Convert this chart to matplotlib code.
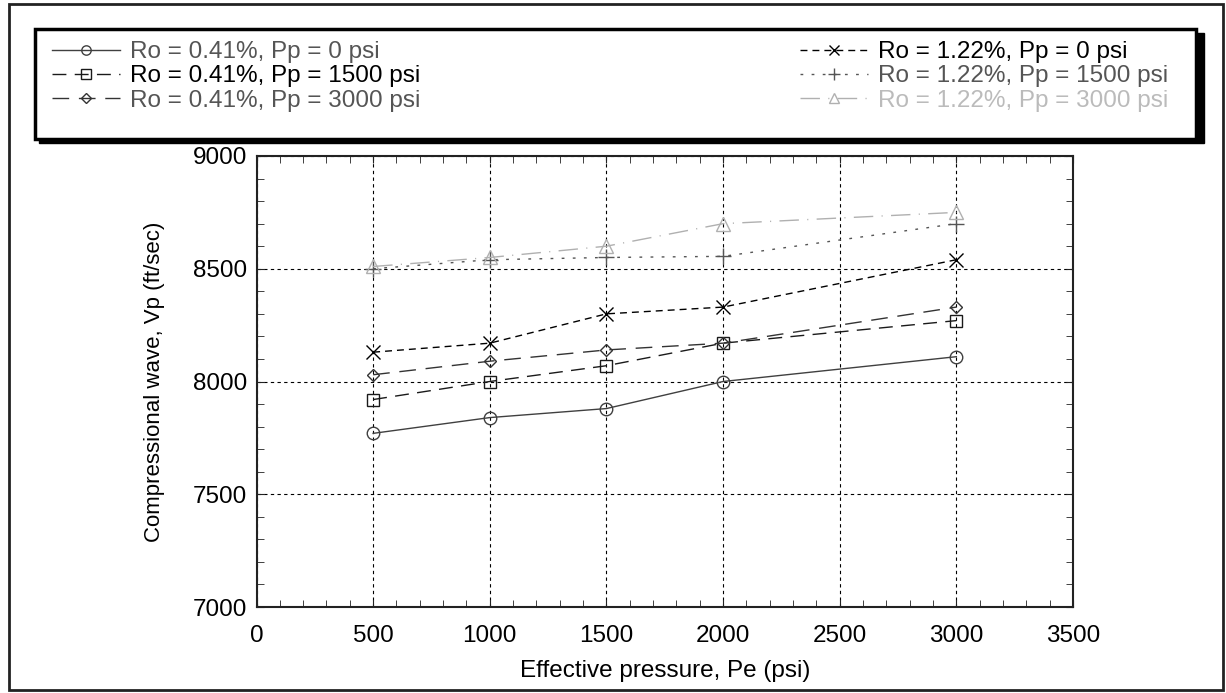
import matplotlib.pyplot as plt
from matplotlib.patches import Rectangle
from matplotlib.ticker import MultipleLocator

plt.rcParams['font.family'] = ['Liberation Sans', 'DejaVu Sans']
FS = 17.5

# effective pressure (psi) and compressional velocity Vp (ft/sec)
pe = [500, 1000, 1500, 2000, 3000]
vp_041_0 = [7770, 7840, 7880, 8000, 8110]
vp_041_1500 = [7920, 8000, 8070, 8170, 8270]
vp_041_3000 = [8030, 8090, 8140, 8170, 8330]
vp_122_0 = [8130, 8170, 8300, 8330, 8540]
vp_122_1500 = [8500, 8540, 8550, 8555, 8700]
vp_122_3000 = [8510, 8550, 8600, 8700, 8750]

labels_left = ['Ro = 0.41%, Pp = 0 psi', 'Ro = 0.41%, Pp = 1500 psi', 'Ro = 0.41%, Pp = 3000 psi']
labels_right = ['Ro = 1.22%, Pp = 0 psi', 'Ro = 1.22%, Pp = 1500 psi', 'Ro = 1.22%, Pp = 3000 psi']

W, H = 1226, 693
fig = plt.figure(figsize=(W / 100, H / 100), dpi=100)
ax = fig.add_axes([256.5 / W, 1 - 607 / H, (1073 - 256.5) / W, (607 - 156) / H])

kw = dict(lw=1, mfc='none', mew=1)
l1, = ax.plot(pe, vp_041_0, color='#404040', ls='-', marker='o', ms=9, **kw)
l2, = ax.plot(pe, vp_041_1500, color='#1a1a1a', ls=(0, (10, 6)), marker='s', ms=9, **kw)
l3, = ax.plot(pe, vp_041_3000, color='#333333', ls=(0, (12, 7)), marker='D', ms=6.5, **kw)
r1, = ax.plot(pe, vp_122_0, color='black', ls=(0, (5, 3.6)), marker='x', ms=10, **kw)
r2, = ax.plot(pe, vp_122_1500, color='#555555', ls=(0, (2, 6)), marker='+', ms=11, **kw)
r3, = ax.plot(pe, vp_122_3000, color='#b0b0b0', ls=(0, (14, 6, 0.8, 6)), marker='^', ms=10, **kw)

ax.set_xlim(0, 3500)
ax.set_ylim(7000, 9000)
ax.xaxis.set_major_locator(MultipleLocator(500))
ax.xaxis.set_minor_locator(MultipleLocator(100))
ax.yaxis.set_major_locator(MultipleLocator(500))
ax.yaxis.set_minor_locator(MultipleLocator(100))
ax.tick_params(which='both', direction='in', top=True, right=True, labelsize=FS, color='#222222')
ax.tick_params(which='major', length=5)
ax.tick_params(axis='y', which='major', pad=7)
ax.tick_params(axis='x', which='major', pad=13)
ax.tick_params(which='minor', length=5)
ax.grid(True, which='major', color='black', ls=(0, (3, 3)), lw=0.8)
for s in ax.spines.values():
    s.set_linewidth(1.5)
    s.set_color('#222222')
ax.set_xlabel('Effective pressure, Pe (psi)', fontsize=FS, labelpad=9)
ax.set_ylabel('Compressional wave, Vp (ft/sec)', fontsize=16, labelpad=20)

# legend box with shadow
fig.patches.append(Rectangle((39 / W, 1 - 143 / H), (1200 - 35) / W, (143 - 33) / H,
                             transform=fig.transFigure, fc='black', ec='black', zorder=1))
fig.patches.append(Rectangle((35 / W, 1 - 139 / H), (1196 - 35) / W, (139 - 29) / H,
                             transform=fig.transFigure, fc='white', ec='black', lw=2.5, zorder=2))
# outer frame
fig.patches.append(Rectangle((9 / W, 1 - 690 / H), (1223 - 9) / W, (690 - 4) / H,
                             transform=fig.transFigure, fc='none', ec='#222222', lw=2, zorder=3))

lkw = dict(frameon=False, fontsize=FS, handlelength=2.8, handletextpad=0.4,
           labelspacing=0.1, markerscale=0.75, borderaxespad=0, borderpad=0)
legl = fig.legend([l1, l2, l3], labels_left, loc='upper left',
                  bbox_to_anchor=(52 / W, 1 - 41 / H), **lkw)
legr = fig.legend([r1, r2, r3], labels_right, loc='upper left',
                  bbox_to_anchor=(800 / W, 1 - 41 / H), **lkw)
for t, c in zip(legl.get_texts(), ['#555555', 'black', '#555555']):
    t.set_color(c)
for t, c in zip(legr.get_texts(), ['black', '#555555', '#bbbbbb']):
    t.set_color(c)
legl.set_zorder(5)
legr.set_zorder(5)

fig.savefig('out.png', dpi=100)
